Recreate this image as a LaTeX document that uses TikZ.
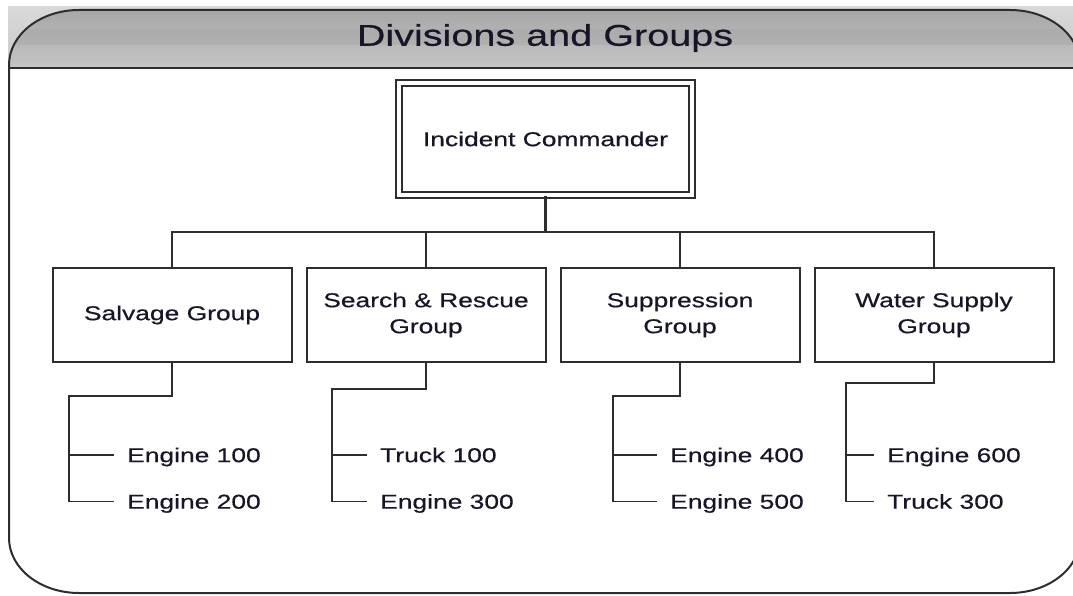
\documentclass[tikz,border=0pt]{standalone}
\usepackage{fontspec}
\setmainfont{Liberation Sans}[FakeStretch=1.32, FakeBold=0.5]
\definecolor{txt}{RGB}{22,22,40}
\definecolor{ln}{RGB}{45,45,45}
\begin{document}
\begin{tikzpicture}[x=1pt,y=1pt,
  grpbox/.style={draw=ln, line width=2pt, minimum width=239pt, minimum height=94pt,
    inner sep=0pt, align=center, text=txt, font=\fontsize{20}{26}\selectfont},
  icbox/.style={draw=ln, line width=2pt, double=white, double distance=4pt,
    minimum width=293pt, minimum height=112.5pt, inner sep=0pt, text=txt,
    font=\fontsize{20}{26}\selectfont},
  leaf/.style={anchor=west, inner sep=0pt, text height=14.3pt, text depth=0pt,
    text=txt, font=\fontsize{20}{26}\selectfont},
  conn/.style={draw=ln, line width=2.2pt},
  branch/.style={draw=ln, line width=1.6pt}]
\useasboundingbox (0,0) rectangle (1073,595);
\clip (0,0) rectangle (1073,595);
% light gray band behind title corners
\fill[top color=gray!30, bottom color=gray!42] (8,527) rectangle (1073,588);
% frame interior
\def\framepath{(9,530) arc[start angle=180, end angle=90, x radius=70, y radius=55]
  -- (1010,585) arc[start angle=90, end angle=0, x radius=70, y radius=55]
  -- (1080,57) arc[start angle=0, end angle=-90, x radius=70, y radius=55]
  -- (79,2) arc[start angle=-90, end angle=-180, x radius=70, y radius=55] -- cycle}
\fill[white] \framepath;
\begin{scope}
  \clip \framepath;
  \fill[top color=gray!75, bottom color=gray!45] (0,527) rectangle (1100,600);
  \fill[gray!68, opacity=0.5] (0,550) rectangle (1100,566);
  \fill[gray!50, opacity=0.5] (0,533) rectangle (1100,542);
\end{scope}
\draw[draw=ln, line width=2pt] \framepath;
\draw[draw=ln, line width=2.2pt] (9,527) -- (1080,527);
\node[text=txt, font=\fontsize{30}{36}\selectfont, inner sep=0pt] (title) at (545,557) {Divisions and Groups};

% Incident commander
\node[icbox] (ic) at (545.5,456) {Incident Commander};

% groups
\node[grpbox] (g1) at (172,280) {Salvage Group};
\node[grpbox] (g2) at (426,280) {Search \& Rescue\\Group};
\node[grpbox] (g3) at (680,280) {Suppression\\Group};
\node[grpbox] (g4) at (934,280) {Water Supply\\Group};

\coordinate (bus) at (545.5,363);
\draw[conn] (ic.south) -- (bus);
\draw[conn] (g1.north) |- (bus);
\draw[conn] (g2.north) |- (bus);
\draw[conn] (g3.north) |- (bus);
\draw[conn] (g4.north) |- (bus);

% leaves
\node[leaf] (l11) at (127,140) {Engine 100};
\node[leaf] (l12) at (127,93.5) {Engine 200};
\node[leaf] (l21) at (380,140) {Truck 100};
\node[leaf] (l22) at (380,93.5) {Engine 300};
\node[leaf] (l31) at (670,140) {Engine 400};
\node[leaf] (l32) at (670,93.5) {Engine 500};
\node[leaf] (l41) at (887,140) {Engine 600};
\node[leaf] (l42) at (887,93.5) {Truck 300};

\coordinate (e1) at (69,199);
\coordinate (e2) at (332,206);
\coordinate (e3) at (613,199);
\coordinate (e4) at (846,212);

\foreach \g/\e/\a/\b in {g1/e1/l11/l12, g2/e2/l21/l22, g3/e3/l31/l32, g4/e4/l41/l42}{
  \draw[conn] (\g.south) |- (\e) -- (\e |- \b.west);
  \draw[branch] (\e |- \a.west) -- ([xshift=-13pt]\a.west);
  \draw[branch] (\e |- \b.west) -- ([xshift=-13pt]\b.west);
}
\end{tikzpicture}
\end{document}
